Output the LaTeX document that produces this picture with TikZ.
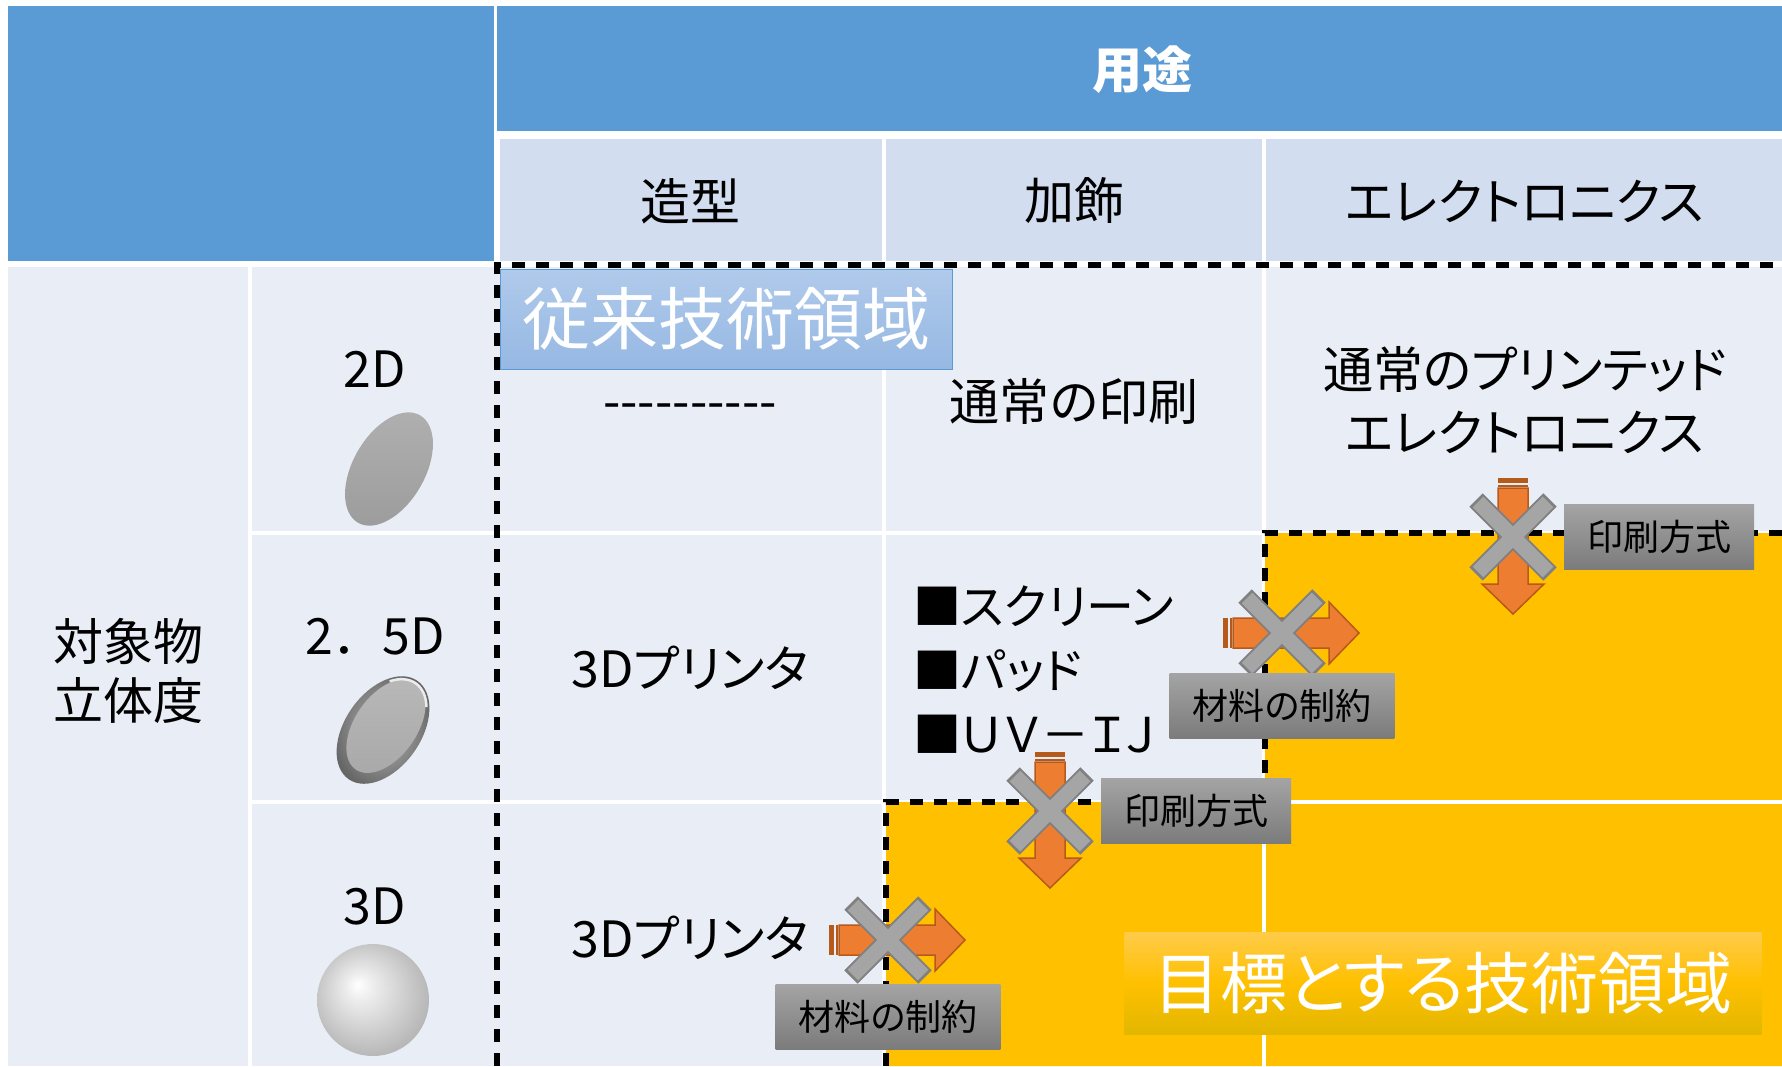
\documentclass[tikz,border=0pt]{standalone}
\usepackage{fontspec}
\setmainfont{Noto Sans CJK JP}[RawFeature=+palt]
\newfontfamily\widejp{Noto Sans CJK JP}
\usetikzlibrary{positioning,calc}
\definecolor{headblue}{HTML}{5B9BD5}
\definecolor{headpale}{HTML}{D2DEEF}
\definecolor{cellpale}{HTML}{E9EEF6}
\definecolor{goalamber}{HTML}{FFC000}
\definecolor{pushorange}{HTML}{ED7D31}
\definecolor{pushedge}{HTML}{B65A1C}
\definecolor{stopgray}{HTML}{A5A5A5}
\definecolor{stopedge}{HTML}{808080}
\definecolor{tagtop}{HTML}{A4A4A4}
\definecolor{tagbottom}{HTML}{7B7B7B}
\definecolor{pasttop}{HTML}{B0CAEB}
\definecolor{pastbottom}{HTML}{96B8E3}
\definecolor{goaltop}{HTML}{FFCB4A}
\definecolor{goalbottom}{HTML}{E2B700}

% light sphere with highlight up left
\pgfdeclareradialshading{sphere}{\pgfpoint{-7bp}{7bp}}{%
  color(0bp)=(white); color(6bp)=(gray!14); color(17bp)=(gray!36);
  color(27bp)=(gray!56); color(40bp)=(gray!62)}

\tikzset{
  pics/blocked/.style={code={
    % striped block arrow, tail at the origin, pointing along x
    \fill[pushedge] (0,-15) rectangle (5,15);
    \fill[pushedge] (7,-15) rectangle (9,15);
    \draw[pushedge,fill=pushorange,line width=1.5pt]
      (10,-15) -- (106,-15) -- (106,-31) -- (136,0) -- (106,31) -- (106,15) -- (10,15) -- cycle;
    % the cross on top of it
    \coordinate (-x) at (59,0);
    \draw[stopedge,line width=19pt] (22,-37) -- (96,37) (22,37) -- (96,-37);
    \draw[stopgray,line width=15pt] (24,-35) -- (94,35) (24,35) -- (94,-35);
  }},
}

\begin{document}
\begin{tikzpicture}[x=1pt,y=-1pt,
  celltext/.style={font=\fontsize{50}{63}\selectfont, align=center, inner sep=0pt},
  tagbox/.style={top color=tagtop, bottom color=tagbottom, minimum height=65pt,
    inner xsep=23pt, inner ysep=0pt, font=\fontsize{36}{40}\selectfont},
  gridline/.style={white, line width=3.5pt},
  zone/.style={line width=5.5pt, dash pattern=on 13pt off 11pt},
]
  \useasboundingbox (0,0) rectangle (1782,1066);
  \fill[white] (0,0) rectangle (1782,1066);

  % header and table body
  \fill[headblue] (8,6) rectangle (494,261);
  \fill[headblue] (497,6) rectangle (1782,131);
  \fill[headpale] (500,139) rectangle (1782,261);
  \fill[cellpale] (8,267) rectangle (1782,1066);
  \draw[gridline] (250,267) -- (250,1066);
  \foreach \x in {884,1264} \draw[gridline] (\x,139) -- (\x,1066);
  \foreach \y in {533,802} \draw[gridline] (252,\y) -- (1782,\y);

  % target area
  \fill[goalamber] (1265,533) -- (1782,533) -- (1782,1066) -- (886,1066) -- (886,802) -- (1265,802) -- cycle;
  \draw[gridline] (1264,804) -- (1264,1066) (1267,802) -- (1782,802);

  \node[celltext, white, font=\bfseries\fontsize{50}{60}\selectfont] (use) at (1142,70) {用途};
  \node[celltext] (shape) at (690,201) {造型};
  \node[celltext] (deco) at (1074,201) {加飾};
  \node[celltext] (elec) at (1525,201) {エレクトロニクス};
  \node[celltext, font=\fontsize{50}{59}\selectfont] (depth) at (128,671) {対象物\\立体度};

  % object depth: flat, raised, round
  \node[celltext, font=\widejp\fontsize{50}{60}\selectfont] (flat) at (375,369) {2D};
  \shade[top color=gray!62, bottom color=gray!78, rotate around={60:(389,469)}]
    (389,469) ellipse [x radius=62, y radius=36];
  \node[celltext, font=\widejp\fontsize{50}{60}\selectfont] (raised) at (375,636) {2．5D};
  \shade[inner color=gray!55, outer color=gray!80!black, rotate around={55:(383,730)}]
    (383,730) ellipse [x radius=60, y radius=38];
  \shade[top color=gray!55, bottom color=gray!68, rotate around={55:(386,726)}]
    (386,726) ellipse [x radius=53, y radius=31];
  \draw[gray!15, line width=2.5pt, rotate around={55:(383,730)}]
    ($(383,730)+(-40:57 and 35)$) arc [start angle=-40, end angle=40, x radius=57, y radius=35];
  \node[celltext, font=\widejp\fontsize{50}{60}\selectfont] (round) at (375,906) {3D};
  \shade[shading=sphere] (373,1000) circle [radius=56];

  \node[top color=pasttop, bottom color=pastbottom, draw=headblue, line width=1pt,
    minimum width=452pt, minimum height=100pt, inner sep=0pt, text=white,
    font=\fontsize{68}{70}\selectfont] (past) at (726,319) {従来技術領域};

  \node[celltext] (none) at (690,412) {-{}-{}-{}-{}-{}-{}-{}-{}-{}-};
  \node[celltext] (print) at (1074,401) {通常の印刷};
  \node[celltext] (pe) at (1525,400) {通常のプリンテッド\\エレクトロニクス};
  \node[celltext] (printer1) at (690,668) {3Dプリンタ};
  \node[celltext] (printer2) at (690,938) {3Dプリンタ};
  \node[celltext, align=left, anchor=west, font=\fontsize{48}{64}\selectfont] (ways) at (913,670)
    {■スクリーン\\■パッド\\■ＵＶ－ＩＪ};

  \node[top color=goaltop, bottom color=goalbottom, middle color=goalamber,
    minimum width=637pt, minimum height=102pt, inner sep=0pt, text=white,
    font=\fontsize{67}{70}\selectfont] (goal) at (1443,983) {目標とする技術領域};

  \draw[zone] (497,1066) -- (497,265) -- (1782,265);
  \draw[zone] (1782,533) -- (1265,533) -- (1265,802) -- (886,802) -- (886,1066);

  % blocked moves into the target area
  \foreach \n/\x/\y/\r in {1/1513/478/-90, 2/1223/633/0, 3/1050/752/-90, 4/829/940/0}
    \pic[rotate=\r] (c\n) at (\x,\y) {blocked};
  \node[tagbox, right=51pt of c1-x] (t1) {印刷方式};
  \node[tagbox, below=40pt of c2-x] (t2) {材料の制約};
  \node[tagbox, right=51pt of c3-x] (t3) {印刷方式};
  \node[tagbox, below=44pt of c4-x] (t4) {材料の制約};
\end{tikzpicture}
\end{document}
